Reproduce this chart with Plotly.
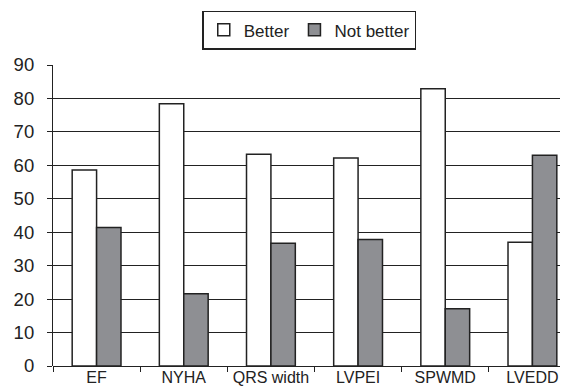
import plotly.graph_objects as go

categories = ["EF", "NYHA", "QRS width", "LVPEI", "SPWMD", "LVEDD"]
better = [58.6, 78.4, 63.3, 62.2, 82.9, 37.0]
not_better = [41.4, 21.6, 36.7, 37.8, 17.1, 63.0]
y_ticks = [0, 10, 20, 30, 40, 50, 60, 70, 80, 90]

line_col = "#222222"
fig = go.Figure()
fig.add_trace(go.Bar(name="Better", x=categories, y=better,
                     marker=dict(color="#ffffff", line=dict(color=line_col, width=1.5))))
fig.add_trace(go.Bar(name="Not better", x=categories, y=not_better,
                     marker=dict(color="#8e8f93", line=dict(color=line_col, width=1.5))))

fig.update_layout(
    width=568, height=388,
    margin=dict(l=45, r=0, t=57, b=30),
    paper_bgcolor="white", plot_bgcolor="white",
    barmode="group", bargap=0.44, bargroupgap=0,
    font=dict(family="Liberation Sans, Arial, sans-serif", size=16, color="#222222"),
    legend=dict(orientation="h", x=0.49, xanchor="center", y=1.18, yanchor="top",
                bordercolor=line_col, borderwidth=1.5, bgcolor="white",
                font=dict(size=17), itemwidth=30, traceorder="normal"),
    xaxis=dict(showgrid=False, showline=False, ticks="outside", tickson="boundaries",
               ticklen=5, tickcolor=line_col, tickwidth=1.2, zeroline=False,
               tickfont=dict(size=16)),
    yaxis=dict(range=[0, 90], tickvals=y_ticks, showgrid=True, gridcolor=line_col,
               gridwidth=1.2, showline=True, linecolor=line_col, linewidth=1.2,
               ticks="outside", ticklen=5, tickcolor=line_col, tickwidth=1.2,
               ticklabelstandoff=9, tickfont=dict(size=18.5),
               zeroline=True, zerolinecolor=line_col, zerolinewidth=1.2),
)
fig.write_html("out.html")
